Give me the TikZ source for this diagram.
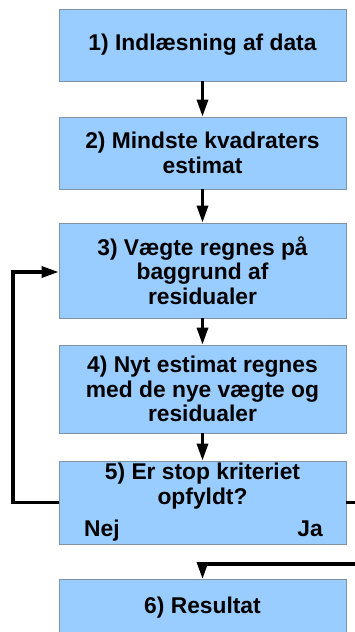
\documentclass[tikz,border=0pt]{standalone}
\usepackage{fontspec}
\setmainfont{Liberation Sans}
\usetikzlibrary{arrows.meta}
\definecolor{boxfill}{HTML}{99CCFF}
\definecolor{boxline}{HTML}{7E93A8}
\tikzset{
  stepbox/.style={draw=boxline, line width=0.8pt, fill=boxfill, minimum width=287pt, inner sep=0pt, align=center,
    font=\fontsize{22.8}{24.5}\selectfont\bfseries, text=black},
  conn/.style={line width=3.2pt, -{Triangle[length=17pt,width=11pt]}},
  plain/.style={line width=3.2pt},
  lbl/.style={font=\fontsize{22.8}{24.5}\selectfont\bfseries, inner sep=0pt}
}
\begin{document}
\begin{tikzpicture}[x=1pt,y=-1pt]
\useasboundingbox (0,0) rectangle (354,632);
\node[stepbox, minimum height=72pt] (b1) at (202.5,45) {1) Indlæsning af data};
\node[stepbox, minimum height=72pt] (b2) at (202.5,153) {2) Mindste kvadraters\\estimat};
\node[stepbox, minimum height=95pt] (b3) at (202.5,270.5) {3) Vægte regnes på\\baggrund af\\residualer};
\node[stepbox, minimum height=88pt] (b4) at (202.5,389) {4) Nyt estimat regnes\\med de nye vægte og\\residualer};
\node[stepbox, minimum height=83pt] (b5) at (202.5,502.5) {};
\node[lbl, align=center, anchor=north] (q5) at (202.5,463) {5) Er stop kriteriet\\opfyldt?};
\node[lbl, anchor=base west] (nej) at (84,536) {Nej};
\node[lbl, anchor=base east] (ja) at (323,536) {Ja};
\node[stepbox, minimum height=80pt, anchor=north] (b6) at (202.5,579) {};
\node[lbl] (t6) at (202.5,608) {6) Resultat};
\coordinate (L1) at (13,502.5);
\coordinate (L2) at (13,272);
\coordinate (R1) at (360,502.5);
\coordinate (R2) at (360,564);
\coordinate (R3) at (202.5,564);
\draw[conn] (b1) -- (b2);
\draw[conn] (b2) -- (b3);
\draw[conn] (b3) -- (b4);
\draw[conn] (b4) -- (b5);
\draw[conn] (b5.west) -- (L1) -- (L2) -- (b3.west |- L2);
\draw[plain] (b5.east) -- (R1);
\draw[conn] (R2) -- (R3) -- (b6.north);
\end{tikzpicture}
\end{document}
